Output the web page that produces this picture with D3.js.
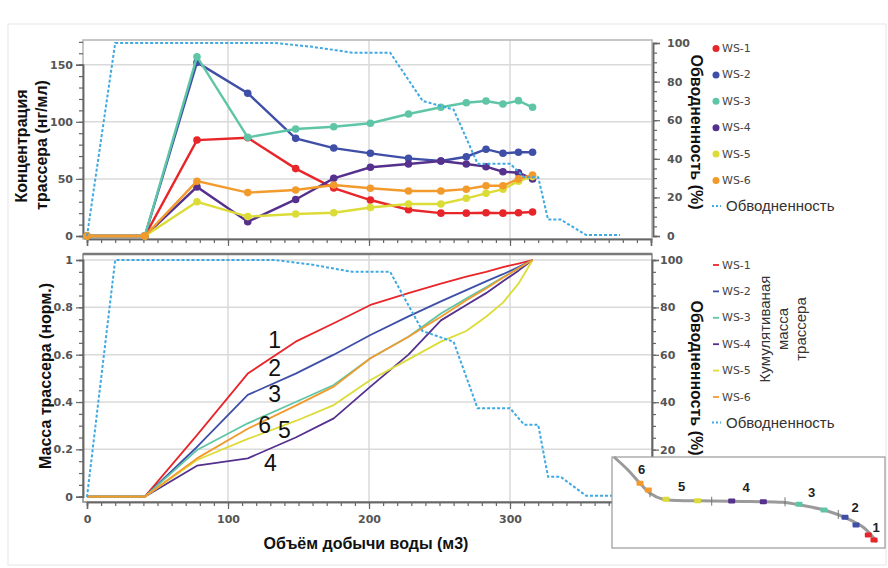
<!DOCTYPE html>
<html>
<head>
<meta charset="utf-8">
<script src="https://cdn.jsdelivr.net/npm/d3@7"></script>
<style>
  body { margin: 0; background: #fff; }
  svg { display: block; }
  .tick text { font-family: "DejaVu Sans", sans-serif; font-weight: bold; font-size: 11px; fill: #555; }
  .axtitle { font-family: "Liberation Sans", Arial, sans-serif; font-weight: bold; font-size: 16px; fill: #111; }
</style>
</head>
<body>
<script>
// sample points (water volume, m3)
const xPts = [0, 41, 78, 114, 148, 175, 201, 228, 251, 269, 283, 295, 306, 316];
const names = ["WS-1", "WS-2", "WS-3", "WS-4", "WS-5", "WS-6"];
const colors = ["#e8262a", "#3f4fa8", "#5ec6a6", "#55308d", "#dcdc38", "#f39a2d"];

// tracer concentration, ng/ml
const conc_ws1 = [0, 0, 84, 86, 59, 42, 31.5, 23, 20, 20, 20.3, 20, 20.3, 21];
const conc_ws2 = [0, 0, 152, 125, 85.5, 77, 72.4, 68, 65.7, 69.4, 76, 72.4, 73.3, 73.3];
const conc_ws3 = [0, 0, 157, 86.4, 93.7, 95.7, 98.7, 106.8, 112.7, 116.7, 118.2, 115.6, 118.5, 112.7];
const conc_ws4 = [0, 0, 43, 12.5, 32, 50.5, 60.2, 63, 65.7, 63, 60.7, 56.3, 55.4, 50];
const conc_ws5 = [0, 0, 30, 17, 19.3, 20.4, 25, 28, 28, 33, 37.4, 41, 48, 52];
const conc_ws6 = [0, 0, 48, 38, 40.3, 44.7, 41.8, 39.4, 39.4, 41, 44, 44, 50, 53.4];

// cumulative normalised tracer mass
const cum_ws1 = [0, 0, 0.26, 0.52, 0.655, 0.733, 0.81, 0.86, 0.9, 0.93, 0.95, 0.97, 0.985, 1];
const cum_ws2 = [0, 0, 0.21, 0.43, 0.52, 0.6, 0.683, 0.762, 0.825, 0.873, 0.91, 0.94, 0.97, 1];
const cum_ws3 = [0, 0, 0.197, 0.31, 0.4, 0.472, 0.585, 0.676, 0.774, 0.837, 0.885, 0.927, 0.965, 1];
const cum_ws4 = [0, 0, 0.131, 0.162, 0.25, 0.331, 0.465, 0.6, 0.745, 0.81, 0.86, 0.91, 0.955, 1];
const cum_ws5 = [0, 0, 0.155, 0.244, 0.32, 0.387, 0.493, 0.58, 0.655, 0.7, 0.76, 0.82, 0.9, 1];
const cum_ws6 = [0, 0, 0.162, 0.287, 0.385, 0.465, 0.585, 0.676, 0.76, 0.83, 0.88, 0.925, 0.965, 1];

// water cut, %
const waterX = [0, 20, 133, 160, 188, 215, 238, 260, 277, 300, 310, 320, 327, 336, 354, 378];
const waterY = [0, 100, 100, 98, 95, 95, 70, 65.5, 37.5, 37.5, 30.5, 30.5, 8.5, 8.5, 0.5, 0.5];

// curve labels on the lower chart
const curveLabels = ["1", "2", "3", "6", "5", "4"];
const curveLabelX = [133, 133, 133, 126, 140, 130];
const curveLabelY = [0.63, 0.51, 0.40, 0.27, 0.25, 0.11];

const concSeries = [conc_ws1, conc_ws2, conc_ws3, conc_ws4, conc_ws5, conc_ws6];
const cumSeries = [cum_ws1, cum_ws2, cum_ws3, cum_ws4, cum_ws5, cum_ws6];

const width = 888, height = 568;
const svg = d3.select("body").append("svg").attr("width", width).attr("height", height);

svg.append("rect").attr("x", 8).attr("y", 24).attr("width", 878).attr("height", 541)
  .attr("fill", "#fff").attr("stroke", "#e6e6e6");

const x = d3.scaleLinear().domain([0, 400]).range([87, 651]);
const plotL = 83, plotR = 652;
const panelTop = { y0: 40, y1: 239 }, panelBot = { y0: 254, y1: 502 };

const yConc = d3.scaleLinear().domain([0, 150]).range([236, 64.7]);
const wTop = d3.scaleLinear().domain([0, 100]).range([236, 43]);
const yMass = d3.scaleLinear().domain([0, 1]).range([496.7, 260]);
const wBot = d3.scaleLinear().domain([0, 100]).range([497, 260]);

function grid(yScale, yVals, panel) {
  const g = svg.append("g");
  g.selectAll(".gy").data(yVals).enter().append("line")
    .attr("x1", plotL).attr("x2", plotR)
    .attr("y1", d => yScale(d)).attr("y2", d => yScale(d))
    .attr("stroke", "#dadada").attr("stroke-width", 1.5);
  g.selectAll(".gx").data([100, 200, 300]).enter().append("line")
    .attr("x1", d => x(d)).attr("x2", d => x(d))
    .attr("y1", panel.y0).attr("y2", panel.y1)
    .attr("stroke", "#dadada").attr("stroke-width", 1.5);
}
grid(yConc, [50, 100, 150], panelTop);
grid(yMass, [0.2, 0.4, 0.6, 0.8, 1], panelBot);

// frames
svg.append("rect").attr("x", plotL).attr("y", panelTop.y0).attr("width", plotR - plotL).attr("height", panelTop.y1 - panelTop.y0)
  .attr("fill", "none").attr("stroke", "#b5b5b5").attr("stroke-width", 1.5);
svg.append("rect").attr("x", plotL).attr("y", panelBot.y0).attr("width", plotR - plotL).attr("height", panelBot.y1 - panelBot.y0)
  .attr("fill", "none").attr("stroke", "#8a8a8a").attr("stroke-width", 1.5);
svg.append("line").attr("x1", plotL).attr("x2", plotR).attr("y1", panelBot.y0).attr("y2", panelBot.y0)
  .attr("stroke", "#7a7a7a").attr("stroke-width", 2.5);

function styleAxis(g) {
  g.select(".domain").attr("stroke", "#666").attr("stroke-width", 1.5);
  g.selectAll(".tick line").attr("stroke", "#666").attr("stroke-width", 1.2);
}

function yAxes(scale, side, xPos, majors, minorStep, dmin, dmax, fmt, pad) {
  const mk = side === "left" ? d3.axisLeft : d3.axisRight;
  const minors = d3.range(dmin, dmax + 1e-9, minorStep);
  svg.append("g").attr("transform", `translate(${xPos},0)`)
    .call(mk(scale).tickValues(minors).tickSize(4).tickFormat(""))
    .call(styleAxis);
  svg.append("g").attr("transform", `translate(${xPos},0)`)
    .call(mk(scale).tickValues(majors).tickSize(7).tickPadding(pad).tickFormat(fmt))
    .call(styleAxis);
}

yAxes(yConc, "left", plotL, [0, 50, 100, 150], 10, 0, 170, d3.format("d"), 3);
yAxes(wTop, "right", 653, [0, 20, 40, 60, 80, 100], 5, 0, 100, d3.format("d"), 7);
yAxes(yMass, "left", plotL, [0, 0.2, 0.4, 0.6, 0.8, 1], 0.05, 0, 1, d => d === 0 || d === 1 ? d : d3.format(".1f")(d), 3);
yAxes(wBot, "right", 652, [20, 40, 60, 80, 100], 5, 0, 100, d3.format("d"), 1);

function xAxes(yPos, labels) {
  svg.append("g").attr("transform", `translate(0,${yPos})`)
    .call(d3.axisBottom(x).tickValues(d3.range(0, 401, 10)).tickSize(4).tickFormat(""))
    .call(styleAxis);
  svg.append("g").attr("transform", `translate(0,${yPos})`)
    .call(d3.axisBottom(x).tickValues([0, 100, 200, 300, 400]).tickSize(7).tickPadding(6)
      .tickFormat(d => labels && d < 400 ? d : ""))
    .call(styleAxis);
}
xAxes(panelTop.y1, false);
xAxes(panelBot.y1, true);

// upper chart: concentration
const lineConc = d3.line().x((d, i) => x(xPts[i])).y(d => yConc(d));
concSeries.forEach((s, k) => {
  svg.append("path").datum(s).attr("d", lineConc)
    .attr("fill", "none").attr("stroke", colors[k]).attr("stroke-width", 2.4);
  svg.selectAll(".pt" + k).data(s).enter().append("circle")
    .attr("cx", (d, i) => x(xPts[i])).attr("cy", d => yConc(d)).attr("r", 3.8)
    .attr("fill", colors[k]);
});

const waterPts = waterX.map((v, i) => [v, waterY[i]]);
svg.append("path").datum(waterPts)
  .attr("d", d3.line().x(d => x(d[0])).y(d => wTop(d[1])))
  .attr("fill", "none").attr("stroke", "#3fa9e2").attr("stroke-width", 2).attr("stroke-dasharray", "3,2");

// lower chart: cumulative mass
const lineMass = d3.line().x((d, i) => x(xPts[i])).y(d => yMass(d));
cumSeries.forEach((s, k) => {
  svg.append("path").datum(s).attr("d", lineMass)
    .attr("fill", "none").attr("stroke", colors[k]).attr("stroke-width", 1.8)
    .attr("stroke-linejoin", "round");
});
svg.append("path").datum(waterPts)
  .attr("d", d3.line().x(d => x(d[0])).y(d => wBot(d[1])))
  .attr("fill", "none").attr("stroke", "#3fa9e2").attr("stroke-width", 2).attr("stroke-dasharray", "3,2");

svg.selectAll(".clab").data(curveLabels).enter().append("text")
  .attr("x", (d, i) => x(curveLabelX[i])).attr("y", (d, i) => yMass(curveLabelY[i]))
  .attr("text-anchor", "middle")
  .attr("font-family", "Liberation Sans, Arial, sans-serif").attr("font-size", 23).attr("fill", "#111")
  .text(d => d);

// axis titles
svg.append("text").attr("class", "axtitle").attr("transform", "translate(21,146) rotate(-90)")
  .attr("text-anchor", "middle").attr("dominant-baseline", "central").text("Концентрация");
svg.append("text").attr("class", "axtitle").attr("transform", "translate(41,145) rotate(-90)")
  .attr("text-anchor", "middle").attr("dominant-baseline", "central").text("трассера (нг/мл)");
svg.append("text").attr("class", "axtitle").attr("transform", "translate(45,376) rotate(-90)")
  .attr("text-anchor", "middle").attr("dominant-baseline", "central").text("Масса трассера (норм.)");
svg.append("text").attr("class", "axtitle").attr("font-size", 15).attr("transform", "translate(696,132) rotate(90)")
  .attr("text-anchor", "middle").attr("dominant-baseline", "central").text("Обводненность (%)");
svg.append("text").attr("class", "axtitle").attr("font-size", 15).attr("transform", "translate(696,378) rotate(90)")
  .attr("text-anchor", "middle").attr("dominant-baseline", "central").text("Обводненность (%)");
svg.append("text").attr("class", "axtitle").attr("x", 366).attr("y", 549)
  .attr("text-anchor", "middle").text("Объём добычи воды (м3)");

["Кумулятиваная", "масса", "трассера"].forEach((t, i) => {
  svg.append("text").attr("transform", `translate(${764 + i * 18},329) rotate(-90)`)
    .attr("text-anchor", "middle").attr("dominant-baseline", "central")
    .attr("font-family", "Liberation Sans, Arial, sans-serif").attr("font-size", 15).attr("fill", "#333")
    .text(t);
});

// legends
function legend(y0, marker) {
  const g = svg.append("g");
  names.forEach((n, k) => {
    const yy = y0 + k * 26.4;
    if (marker === "dot") {
      g.append("circle").attr("cx", 716).attr("cy", yy).attr("r", 3.5).attr("fill", colors[k]);
    } else {
      g.append("line").attr("x1", 713).attr("x2", 719).attr("y1", yy).attr("y2", yy)
        .attr("stroke", colors[k]).attr("stroke-width", 1.8);
    }
    g.append("text").attr("x", 722).attr("y", yy).attr("dominant-baseline", "central")
      .attr("font-family", "DejaVu Sans, sans-serif").attr("font-size", 11).attr("fill", "#444").text(n);
  });
  const yw = y0 + 6 * 26.4 - 1;
  g.append("line").attr("x1", 712).attr("x2", 721).attr("y1", yw).attr("y2", yw)
    .attr("stroke", "#3fa9e2").attr("stroke-width", 2).attr("stroke-dasharray", "2,2");
  g.append("text").attr("x", 726).attr("y", yw).attr("dominant-baseline", "central")
    .attr("font-family", "Liberation Sans, Arial, sans-serif").attr("font-size", 15).attr("fill", "#333")
    .text("Обводненность");
}
legend(48.5, "dot");
legend(265, "line");

// inset: well trajectory sketch
const ix = d3.scaleLinear().domain([0, 273]).range([612, 885]);
const iy = d3.scaleLinear().domain([0, 91]).range([457, 548]);
const wellPath = [[2, 0], [16, 13], [28, 26.3], [38, 36.3], [51, 42.3], [88, 43.7], [138, 44.5], [171, 45.3],
  [188, 48], [214.7, 53.7], [234.7, 61.3], [251.3, 70.3], [265, 85]];
const wellMarks = [[256.3, 78], [262, 83], [233, 60.3], [244, 68], [187, 47.3], [212, 53],
  [119.7, 44], [151.3, 44.7], [54, 42.3], [85.7, 43.7], [28, 26.3], [36.3, 33]];
const wellTicks = [[38, 36.3], [99.7, 44.7], [173, 45.3], [226.3, 58]];
const wellNums = ["1", "2", "3", "4", "5", "6"];
const wellNumPos = [[264, 70.3], [243, 50.3], [199.7, 35.7], [134, 30.7], [69.7, 29], [29.7, 12.3]];

svg.append("rect").attr("x", ix(0)).attr("y", iy(0)).attr("width", ix(273) - ix(0)).attr("height", iy(91) - iy(0))
  .attr("fill", "#fff").attr("stroke", "#999").attr("stroke-width", 1.2);
svg.append("path").datum(wellPath)
  .attr("d", d3.line().x(d => ix(d[0])).y(d => iy(d[1])).curve(d3.curveCatmullRom))
  .attr("fill", "none").attr("stroke", "#9a9a9a").attr("stroke-width", 3);
svg.selectAll(".wt").data(wellTicks).enter().append("line")
  .attr("x1", d => ix(d[0])).attr("x2", d => ix(d[0]))
  .attr("y1", d => iy(d[1]) - 5).attr("y2", d => iy(d[1]) + 4)
  .attr("stroke", "#777").attr("stroke-width", 1);
svg.selectAll(".wm").data(wellMarks).enter().append("rect")
  .attr("x", d => ix(d[0]) - 3.5).attr("y", d => iy(d[1]) - 2.5).attr("width", 7).attr("height", 5).attr("rx", 1)
  .attr("fill", (d, i) => colors[Math.floor(i / 2)]);
svg.selectAll(".wn").data(wellNums).enter().append("text")
  .attr("x", (d, i) => ix(wellNumPos[i][0])).attr("y", (d, i) => iy(wellNumPos[i][1]))
  .attr("text-anchor", "middle").attr("dominant-baseline", "central")
  .attr("font-family", "Liberation Sans, Arial, sans-serif").attr("font-weight", "bold").attr("font-size", 13)
  .attr("fill", "#222").text(d => d);
</script>
</body>
</html>
